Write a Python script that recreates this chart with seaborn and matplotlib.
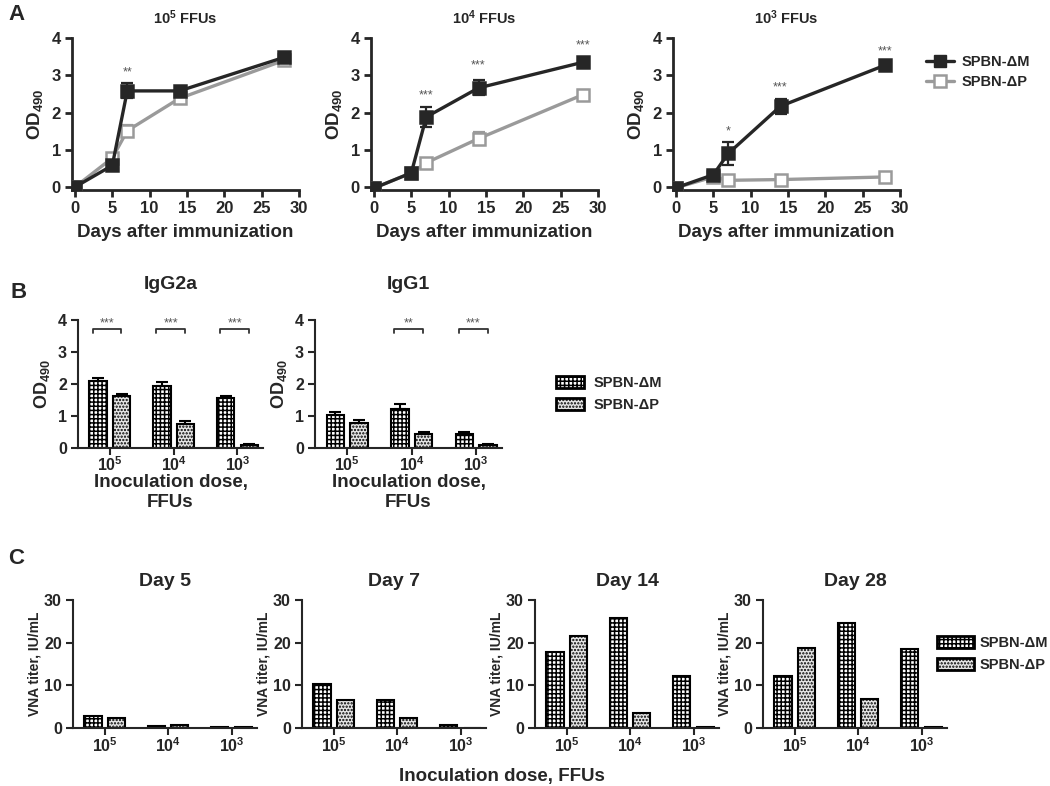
import numpy as np
import pandas as pd
import matplotlib.pyplot as plt
import seaborn as sns
from matplotlib.lines import Line2D
from matplotlib.patches import Patch

sns.set_style('ticks')
plt.rcParams['font.family'] = ['Liberation Sans', 'DejaVu Sans']
plt.rcParams['font.weight'] = 'bold'
plt.rcParams['axes.labelweight'] = 'bold'
plt.rcParams['axes.titleweight'] = 'bold'
plt.rcParams['mathtext.fontset'] = 'custom'
plt.rcParams['mathtext.rm'] = 'Liberation Sans:bold'
plt.rcParams['mathtext.bf'] = 'Liberation Sans:bold'
plt.rcParams['mathtext.it'] = 'Liberation Sans:bold'
plt.rcParams['mathtext.default'] = 'regular'
plt.rcParams['hatch.linewidth'] = 1.1

viruses = ['SPBN-ΔM', 'SPBN-ΔP']
days = [0, 5, 7, 14, 28]
doses = ['10$^5$', '10$^4$', '10$^3$']

# Panel A: OD490 over time, one list per dose
a_titles = ['10$^5$ FFUs', '10$^4$ FFUs', '10$^3$ FFUs']
a_dm = [[0.0, 0.58, 2.58, 2.58, 3.48],
        [-0.03, 0.38, 1.88, 2.66, 3.35],
        [-0.02, 0.33, 0.90, 2.17, 3.27]]
a_dm_err = [[0.03, 0.05, 0.20, 0.08, 0.08],
            [0.03, 0.05, 0.27, 0.20, 0.06],
            [0.03, 0.05, 0.30, 0.20, 0.05]]
a_dp = [[0.0, 0.78, 1.51, 2.38, 3.40],
        [-0.03, 0.38, 0.65, 1.30, 2.48],
        [-0.02, 0.27, 0.18, 0.20, 0.27]]
a_dp_err = [[0.03, 0.08, 0.15, 0.06, 0.08],
            [0.03, 0.05, 0.07, 0.17, 0.12],
            [0.03, 0.05, 0.05, 0.04, 0.05]]
a_stars = [[(7, 3.08, '**')],
           [(7, 2.46, '***'), (14, 3.27, '***'), (28, 3.79, '***')],
           [(7, 1.50, '*'), (14, 2.66, '***'), (28, 3.64, '***')]]

# Panel B: isotypes
b_titles = ['IgG2a', 'IgG1']
b_dm = [[2.09, 1.95, 1.56], [1.02, 1.21, 0.44]]
b_dm_err = [[0.09, 0.12, 0.08], [0.12, 0.18, 0.05]]
b_dp = [[1.61, 0.75, 0.10], [0.78, 0.44, 0.10]]
b_dp_err = [[0.08, 0.08, 0.02], [0.09, 0.05, 0.02]]
b_stars = [['***', '***', '***'], ['', '**', '***']]

# Panel C: VNA titers
c_titles = ['Day 5', 'Day 7', 'Day 14', 'Day 28']
c_dm = [[2.9, 0.4, 0.2], [10.4, 6.6, 0.7], [17.9, 25.7, 12.3], [12.3, 24.6, 18.5]]
c_dp = [[2.3, 0.6, 0.2], [6.6, 2.3, 0.1], [21.5, 3.5, 0.2], [18.7, 6.7, 0.2]]

W, H = 1050, 786
fig = plt.figure(figsize=(W / 100, H / 100), dpi=100)


def rect(left, right, top, bottom):
    return [left / W, 1 - bottom / H, (right - left) / W, (bottom - top) / H]


dark = '#262626'
light = '#9a9a9a'
star_color = '#555555'
hatches = ['++++', '.....']
fills = ['white', '#e6e6e6']


def style_axis(ax, lw, size, xpad=3):
    sns.despine(ax=ax)
    for s in ['left', 'bottom']:
        ax.spines[s].set_linewidth(lw)
    ax.tick_params(direction='out', length=5, width=lw, labelsize=size, pad=3)
    ax.tick_params(axis='x', pad=xpad)


# ---- Panel A ----
a_lefts = [72, 371, 673]
for i in range(3):
    ax = fig.add_axes(rect(a_lefts[i], a_lefts[i] + 227, 38, 190))
    for vals, errs, col, face in [(a_dp[i], a_dp_err[i], light, 'white'),
                                  (a_dm[i], a_dm_err[i], dark, dark)]:
        ax.errorbar(days, vals, yerr=errs, fmt='none', ecolor=col,
                    elinewidth=1.6, capsize=4, capthick=1.6, zorder=2)
        sns.lineplot(x=days, y=vals, color=col, lw=2.4, marker='s', ms=8,
                     mfc=face, mec=col, mew=1.8, ax=ax, zorder=3)
    for d, y, s in a_stars[i]:
        ax.text(d, y, s, ha='center', va='center', color=star_color,
                fontsize=9, fontweight='normal')
    ax.set_xlim(-0.4, 30)
    ax.set_ylim(-0.08, 4)
    ax.set_xticks([0, 5, 10, 15, 20, 25, 30])
    ax.set_yticks([0, 1, 2, 3, 4])
    style_axis(ax, 2, 12)
    ax.set_title(a_titles[i], fontsize=10.5, pad=10)
    ax.set_xlabel('Days after immunization', fontsize=13.5, labelpad=6)
    ax.set_ylabel('OD$_{490}$', fontsize=13.5, labelpad=5)

a_handles = [Line2D([], [], color=dark, lw=2.4, marker='s', ms=8, mfc=dark, mec=dark),
             Line2D([], [], color=light, lw=2.4, marker='s', ms=8, mfc='white', mec=light, mew=1.8)]
fig.legend(a_handles, viruses, loc='center left', bbox_to_anchor=(913 / W, 1 - 72 / H),
           frameon=False, fontsize=10.5, handlelength=1.9, labelspacing=0.45, handletextpad=0.5)


def draw_bars(ax, dm, dp, dm_err=None, dp_err=None):
    df = pd.DataFrame({'dose': doses * 2, 'val': dm + dp,
                       'virus': [viruses[0]] * 3 + [viruses[1]] * 3})
    sns.barplot(data=df, x='dose', y='val', hue='virus', order=doses, hue_order=viruses,
                palette=fills, saturation=1, width=0.74, gap=0.27, edgecolor='black',
                linewidth=1.5, errorbar=None, legend=False, ax=ax)
    for cont, hatch, err in zip(ax.containers, hatches, [dm_err, dp_err]):
        xs = []
        for bar in cont:
            bar.set_hatch(hatch)
            xs.append(bar.get_x() + bar.get_width() / 2)
        if err is not None:
            hs = [bar.get_height() for bar in cont]
            ax.errorbar(xs, hs, yerr=[[0] * 3, err], fmt='none', ecolor='black',
                        elinewidth=1.5, capsize=4, capthick=1.5, zorder=1)
    ax.set_xlim(-0.5, 2.4)
    ax.set_xlabel('')
    ax.set_ylabel('')


bar_handles = [Patch(facecolor=fills[k], edgecolor='black', hatch=hatches[k], lw=2)
               for k in range(2)]

# ---- Panel B ----
b_pos = [(78, 263), (315, 502)]
for i in range(2):
    ax = fig.add_axes(rect(b_pos[i][0], b_pos[i][1], 320, 448))
    draw_bars(ax, b_dm[i], b_dp[i], b_dm_err[i], b_dp_err[i])
    for g, s in enumerate(b_stars[i]):
        if s:
            x0, x1 = g - 0.27, g + 0.18
            ax.plot([x0, x0, x1, x1], [3.6, 3.72, 3.72, 3.6], color='#333333', lw=1.3)
            ax.text((x0 + x1) / 2, 3.9, s, ha='center', va='center',
                    color=star_color, fontsize=9, fontweight='normal')
    ax.set_ylim(0, 4)
    ax.set_yticks([0, 1, 2, 3, 4])
    style_axis(ax, 1.5, 11.5, xpad=0.5)
    ax.set_title(b_titles[i], fontsize=14, pad=22)
    ax.set_xlabel('Inoculation dose,\nFFUs', fontsize=13.5, labelpad=0)
    ax.set_ylabel('OD$_{490}$', fontsize=13, labelpad=4)

fig.legend(bar_handles, viruses, loc='center left', bbox_to_anchor=(543 / W, 1 - 394 / H),
           frameon=False, fontsize=10.5, handlelength=1.9, handleheight=0.9,
           labelspacing=0.55, handletextpad=0.7)

# ---- Panel C ----
c_lefts = [73, 302, 535, 763]
for i in range(4):
    ax = fig.add_axes(rect(c_lefts[i], c_lefts[i] + 184, 600, 728))
    draw_bars(ax, c_dm[i], c_dp[i])
    ax.set_ylim(0, 30)
    ax.set_yticks([0, 10, 20, 30])
    style_axis(ax, 1.5, 11.5, xpad=1)
    ax.set_title(c_titles[i], fontsize=14, pad=10)
    ax.set_ylabel('VNA titer, IU/mL', fontsize=10, labelpad=2)

fig.text(502 / W, 1 - 776 / H, 'Inoculation dose, FFUs', ha='center', va='center', fontsize=13.5)
fig.legend(bar_handles, viruses, loc='center left', bbox_to_anchor=(924 / W, 1 - 654 / H),
           frameon=False, fontsize=10.5, handlelength=2.5, handleheight=0.9,
           labelspacing=0.5, handletextpad=0.4)

# Panel letters
fig.text(8 / W, 1 - 15 / H, 'A', fontsize=16, va='center')
fig.text(10 / W, 1 - 293 / H, 'B', fontsize=16, va='center')
fig.text(8 / W, 1 - 558 / H, 'C', fontsize=16, va='center')

fig.savefig('out.png', dpi=100)
